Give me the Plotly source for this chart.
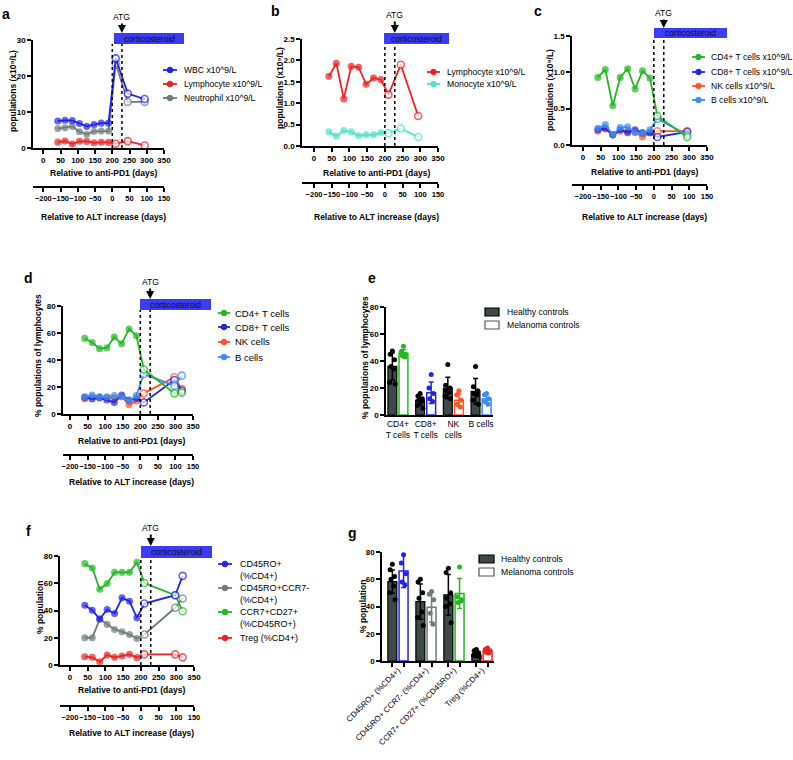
import plotly.graph_objects as go

# ======================= DATA =======================
# Panels a / b : blood counts (x10^9/L) vs days after anti-PD1
days_ab = [42, 63, 84, 105, 126, 147, 168, 189, 210, 245, 294]
wbc = [7.5, 7.7, 7.6, 6.8, 6.0, 6.5, 6.9, 6.9, 24.9, 15.1, 13.6]
lymphocyte = [1.63, 1.93, 1.10, 1.86, 1.84, 1.44, 1.59, 1.55, 1.20, 1.90, 0.70]
neutrophil = [5.4, 5.6, 6.0, 4.5, 3.8, 4.6, 4.7, 4.7, 23.5, 12.8, 12.8]
monocyte = [0.33, 0.23, 0.36, 0.33, 0.24, 0.26, 0.26, 0.31, 0.30, 0.41, 0.21]

# Panel c : lymphocyte subsets (x10^9/L)
days_c = [42, 63, 84, 105, 126, 147, 168, 189, 210, 294]
cd4_abs = [0.93, 1.04, 0.54, 0.93, 1.05, 0.77, 1.02, 0.92, 0.40, 0.11]
cd8_abs = [0.21, 0.23, 0.14, 0.21, 0.17, 0.21, 0.17, 0.17, 0.11, 0.18]
nk_abs = [0.19, 0.22, 0.14, 0.19, 0.19, 0.18, 0.11, 0.17, 0.19, 0.19]
bcell_abs = [0.23, 0.28, 0.14, 0.24, 0.25, 0.17, 0.16, 0.21, 0.36, 0.14]

# Panel d : % of lymphocytes ; Panel f : % population
days_df = [42, 63, 84, 105, 126, 147, 168, 189, 210, 297, 318]
cd4_pct = [56, 53, 48.4, 49, 57, 52, 63, 58, 33, 15.3, 15.8]
cd8_pct = [12.3, 11.1, 11.9, 10.4, 8.6, 14, 10.4, 11.6, 8.6, 25.2, 17.3]
nk_pct = [11.1, 12.8, 12.8, 12.3, 11.6, 12.8, 6.9, 9.6, 15.3, 27.2, 18.5]
bcell_pct = [12.8, 14, 12.8, 12.8, 13.6, 12.8, 9.6, 13.6, 29.6, 21, 28.4]

cd45ro = [43.9, 40.2, 33.7, 40.7, 37.8, 49.3, 46.8, 34.6, 45.1, 51.2, 65.4]
cd45ro_ccr7neg = [20, 20, 33.7, 29.8, 26.1, 24.4, 22.4, 19.5, 22.4, 42, 48.8]
ccr7_cd27 = [74.4, 71.2, 55.6, 59.8, 68, 68, 68, 75.4, 60.2, 51.2, 39.5]
treg = [6.1, 5.6, 2.4, 7.3, 5.6, 6.6, 7.8, 5.4, 7.8, 7.8, 5.6]

N_PRE = 8          # filled points (before corticosteroid); later points hollow
ALT_DAY0 = 200     # anti-PD1 day of ALT increase (= day 0 on the ALT axis)
ATG_DAY = 228      # ATG administration (anti-PD1 days)
anti_pd1_ticks = [0, 50, 100, 150, 200, 250, 300, 350]
alt_ticks = [-200, -150, -100, -50, 0, 50, 100, 150]

# Panel e : controls, % of lymphocytes
cats_e = ["CD4+<br>T cells", "CD8+<br>T cells", "NK<br>cells", "B cells"]
healthy_e_mean = [36.0, 11.0, 20.0, 17.5]
healthy_e_sd = [10.0, 4.0, 8.0, 9.5]
melanoma_e_mean = [45.5, 16.5, 11.0, 12.0]
melanoma_e_sd = [3.0, 8.0, 4.5, 3.5]
healthy_e_pts = [[47.5, 45, 41, 36, 34, 24, 23], [16, 14, 12, 11, 10, 7, 5],
                 [37.5, 22, 20, 18, 17, 14, 12], [36, 21, 18, 16, 15, 11, 8]]
melanoma_e_pts = [[51, 47, 45, 44, 43], [30, 20, 16, 12, 10],
                  [18, 15, 11, 8, 6], [16, 15, 12, 10, 8]]

# Panel g : controls, % population
cats_g = ["CD45RO+ (%CD4+)", "CD45RO+ CCR7- (%CD4+)", "CCR7+ CD27+ (%CD45RO+)", "Treg (%CD4+)"]
healthy_g_mean = [58.3, 43.6, 48.5, 4.9]
healthy_g_sd = [8.5, 13.0, 15.0, 2.0]
melanoma_g_mean = [66.0, 39.5, 49.5, 7.4]
melanoma_g_sd = [12.0, 11.0, 11.0, 1.5]
healthy_g_pts = [[71, 67, 62, 60, 55, 50, 45], [60, 58, 50, 46, 36, 32, 26],
                 [68, 65, 50, 46, 42, 40, 28], [8.5, 7.5, 6, 5, 4.5, 4, 3]]
melanoma_g_pts = [[78, 72, 64, 58, 56], [51, 49, 45, 35, 27],
                  [69, 47, 45, 43, 44], [9.5, 8.5, 7.5, 6.5, 6]]

# ======================= STYLE =======================
W, H = 793, 760
FONT = "Liberation Sans, Arial, Helvetica, sans-serif"
C_BLUE = "#2323ee"
C_RED = "#ee2222"
C_GRAY = "#6e7d7b"
C_TURQ = "#4fe3cc"
C_GREEN = "#22b822"
C_NAVY = "#2525e0"
C_ORANGE = "#ff5522"
C_LBLUE = "#3d8cf0"
C_BOX = "#3c3cf4"
HEALTHY_FILL = "#3d4a48"


def px(x):
    return x / W


def py(y):
    return 1 - y / H


def axn(k, i):
    return f"{k}axis" if i == 1 else f"{k}axis{i}"


def axr(k, i):
    return k if i == 1 else f"{k}{i}"


TICKFONT = dict(family=FONT, size=8, color="black", weight="bold")
AX = dict(showline=True, linecolor="black", linewidth=1.5, ticks="outside", ticklen=4,
          tickwidth=1.5, tickcolor="black", showgrid=False, zeroline=False,
          tickfont=TICKFONT, fixedrange=True, automargin=False)

layout = {}
shapes, annots, traces = [], [], []


def text(t, x, y, size=8.6, bold=False, anchor="center", angle=0, valign="middle", color="black"):
    annots.append(dict(text=t, x=px(x), y=py(y), xref="paper",
                       yref="paper", xanchor=anchor, yanchor=valign, showarrow=False,
                       textangle=angle,
                       font=dict(family=FONT, size=size, color=color,
                                 weight="bold" if bold else "normal")))


def legend_lines(entries, ys, sx0, sx1, tx, size, line_gap=11.5):
    for (lab, col), y in zip(entries, ys):
        shapes.append(dict(type="line", xref="paper", yref="paper", x0=px(sx0), x1=px(sx1),
                           y0=py(y), y1=py(y), line=dict(color=col, width=1.8)))
        cx = (sx0 + sx1) / 2
        shapes.append(dict(type="circle", xref="paper", yref="paper", x0=px(cx - 2.8), x1=px(cx + 2.8),
                           y0=py(y + 2.8), y1=py(y - 2.8), fillcolor=col, line=dict(color=col, width=1)))
        for k, part in enumerate(lab.split("\n")):
            text(part, tx, y + k * line_gap, size, anchor="left")


def legend_bars(ys, sx0, sx1, tx, size):
    entries = [("Healthy controls", HEALTHY_FILL, "black"), ("Melanoma controls", "white", "#555555")]
    for (lab, fill, edge), y in zip(entries, ys):
        shapes.append(dict(type="rect", xref="paper", yref="paper", x0=px(sx0), x1=px(sx1),
                           y0=py(y + 4), y1=py(y - 4), fillcolor=fill, line=dict(color=edge, width=1.2)))
        text(lab, tx, y, size, anchor="left")


def line_panel(i, sp, days, series):
    xm, ym = axr("x", i), axr("y", i)
    xa = axr("x", i + 1)
    x0, x1 = sp["xd"]
    y0, y1 = sp["yd"]
    xr = sp["xr"]
    layout[axn("x", i)] = dict(AX, domain=[px(x0), px(x1)], range=xr, anchor=ym,
                               tickvals=anti_pd1_ticks, tickangle=0)
    layout[axn("y", i)] = dict(AX, domain=[py(y1), py(y0)], range=sp["yr"], anchor=xm,
                               tickvals=sp["yt"], tickformat=sp.get("fmt", ""))
    # secondary x axis: days relative to ALT increase (same scale, shifted by ALT_DAY0)
    layout[axn("x", i + 1)] = dict(AX, overlaying=xm, anchor="free", position=py(sp["alt_y"]),
                                   side="bottom", range=[xr[0] - ALT_DAY0, xr[1] - ALT_DAY0],
                                   tickvals=alt_ticks, tickangle=0,
                                   tickfont=dict(TICKFONT, size=7.5))
    traces.append(go.Scatter(x=[], y=[], xaxis=xa, yaxis=ym, showlegend=False, hoverinfo="skip"))
    for name, vals, col in series:
        n = len(vals)
        traces.append(go.Scatter(
            x=days, y=vals, xaxis=xm, yaxis=ym, mode="lines+markers", name=name,
            cliponaxis=False, showlegend=False, line=dict(color=col, width=1.8),
            marker=dict(color=[col] * N_PRE + ["white"] * (n - N_PRE),
                        size=[5.5] * N_PRE + [7] * (n - N_PRE), line=dict(color=col, width=1.6))))
    # titles
    cx = x0 + (175 - xr[0]) / (xr[1] - xr[0]) * (x1 - x0)
    text("Relative to anti-PD1 (days)", cx, sp["xt_y"], 8.5, bold=True)
    text("Relative to ALT increase (days)", cx, sp["altt_y"], 8.5, bold=True)
    text(sp["ytitle"], sp["ytx"], sp["yty"], 8.5, bold=True, angle=-90)
    # dotted event lines, corticosteroid box, ATG arrow
    bx0, bx1, by0, by1 = sp["box"]
    for d in (ALT_DAY0, ATG_DAY):
        shapes.append(dict(type="line", xref=xm, yref="paper", x0=d, x1=d, y0=py(y1), y1=py(by1),
                           line=dict(color="black", width=1.5, dash="dot")))
    shapes.append(dict(type="rect", xref="paper", yref="paper", x0=px(bx0), x1=px(bx1),
                       y0=py(by1), y1=py(by0), fillcolor=C_BOX, line=dict(width=0)))
    text("corticosteroid", (bx0 + bx1) / 2, (by0 + by1) / 2, 8.6, color="#0a0a30")
    annots.append(dict(text="ATG", xref=xm, yref="paper", x=ATG_DAY, y=py(by0), ax=0,
                       ay=-(by0 - sp["atg_y"]), showarrow=True, arrowhead=2, arrowsize=0.8,
                       arrowwidth=2, arrowcolor="black", standoff=0,
                       font=dict(family=FONT, size=8.6, color="black")))
    text(sp["letter"][0], sp["letter"][1], sp["letter"][2], 14, bold=True)


OFF, BW = 0.2, 0.32
JIT_H = [0.0, -0.08, 0.08, -0.05, 0.05, -0.1, 0.1]
JIT_M = [0.0, -0.08, 0.08, -0.05, 0.05]


def bar_panel(i, sp, cats, hm, hsd, hpts, mm, msd, mpts, mcols):
    xm, ym = axr("x", i), axr("y", i)
    x0, x1 = sp["xd"]
    y0, y1 = sp["yd"]
    idx = list(range(len(cats)))
    xax = dict(AX, domain=[px(x0), px(x1)], range=sp["xr"], anchor=ym, tickvals=idx, ticktext=cats,
               ticks="", tickangle=sp.get("angle", 0),
               tickfont=dict(family=FONT, size=sp.get("catsize", 8.5), color="black"))
    if sp.get("minor"):
        xax["minor"] = dict(tickmode="array", tickvals=sorted([k - OFF for k in idx] + [k + OFF for k in idx]),
                            ticks="outside", ticklen=4, tickwidth=1.5, tickcolor="black")
    layout[axn("x", i)] = xax
    layout[axn("y", i)] = dict(AX, domain=[py(y1), py(y0)], range=[0, 80], anchor=xm,
                               tickvals=[0, 20, 40, 60, 80])
    traces.append(go.Bar(x=[k - OFF for k in idx], y=hm, width=BW, xaxis=xm, yaxis=ym, showlegend=False,
                         marker=dict(color=HEALTHY_FILL, line=dict(color="black", width=1.2)),
                         error_y=dict(type="data", array=hsd, color="black", thickness=1.5, width=2.5),
                         name="Healthy controls"))
    for k in idx:
        traces.append(go.Bar(x=[k + OFF], y=[mm[k]], width=BW, xaxis=xm, yaxis=ym, showlegend=False,
                             marker=dict(color="white", line=dict(color=mcols[k], width=1.5)),
                             error_y=dict(type="data", array=[msd[k]], color=mcols[k], thickness=1.5,
                                          width=2.5), name="Melanoma controls"))
    for k in idx:
        traces.append(go.Scatter(x=[k - OFF + j for j in JIT_H[:len(hpts[k])]], y=hpts[k], mode="markers",
                                 xaxis=xm, yaxis=ym, showlegend=False, cliponaxis=False,
                                 marker=dict(color="black", size=5)))
        traces.append(go.Scatter(x=[k + OFF + j for j in JIT_M[:len(mpts[k])]], y=mpts[k], mode="markers",
                                 xaxis=xm, yaxis=ym, showlegend=False, cliponaxis=False,
                                 marker=dict(color=mcols[k], size=5)))
    text(sp["ytitle"], sp["ytx"], sp["yty"], 8.5, bold=True, angle=-90)
    text(sp["letter"][0], sp["letter"][1], sp["letter"][2], 14, bold=True)


YT_ABS = "populations (x10\u2079/L)"

spec_a = dict(xd=(33, 164), yd=(40, 148), xr=[-30, 350], yr=[0, 30], yt=[0, 10, 20, 30],
              alt_y=187, xt_y=173, altt_y=217, ytitle=YT_ABS, ytx=13, yty=91,
              box=(114, 184, 33, 44), atg_y=17, letter=("a", 6, 14))
spec_b = dict(xd=(302, 438), yd=(39, 146), xr=[-34, 350], yr=[0, 2.5], yt=[0, 0.5, 1, 1.5, 2, 2.5],
              fmt=".1f", alt_y=183, xt_y=173, altt_y=217, ytitle=YT_ABS, ytx=280, yty=88,
              box=(384, 449, 33, 44), atg_y=15, letter=("b", 275, 11))
spec_c = dict(xd=(572, 707), yd=(36, 145), xr=[-31, 350], yr=[0, 1.5], yt=[0, 0.5, 1, 1.5],
              fmt=".1f", alt_y=185, xt_y=172, altt_y=217, ytitle=YT_ABS, ytx=550, yty=90,
              box=(654, 727, 28, 38), atg_y=13, letter=("c", 538, 11))
spec_d = dict(xd=(63, 193), yd=(306, 414), xr=[-20, 350], yr=[0, 80], yt=[0, 20, 40, 60, 80],
              alt_y=455, xt_y=441, altt_y=482, ytitle="% populations of lymphocytes", ytx=38, yty=356,
              box=(140, 211, 299, 310), atg_y=282, letter=("d", 29, 278))
spec_f = dict(xd=(60, 194), yd=(556, 665), xr=[-28, 350], yr=[0, 80], yt=[0, 20, 40, 60, 80],
              alt_y=706, xt_y=690, altt_y=733, ytitle="% population", ytx=40, yty=608,
              box=(141, 212, 546, 558), atg_y=528, letter=("f", 28, 531))
spec_e = dict(xd=(386, 493), yd=(307, 415), xr=[-0.43, 3.43], ytitle="% populations of lymphocytes",
              ytx=365, yty=358, letter=("e", 372, 278))
spec_g = dict(xd=(382, 494), yd=(552, 661), xr=[-0.57, 3.43], ytitle="% population", ytx=363, yty=607,
              letter=("g", 352, 533), angle=-45, minor=True, catsize=8)

# ---- line panels ----
line_panel(1, spec_a, days_ab, [("Neutrophil x10^9/L", neutrophil, C_GRAY),
                                ("Lymphocyte x10^9/L", lymphocyte, C_RED),
                                ("WBC x10^9/L", wbc, C_BLUE)])
legend_lines([("WBC x10^9/L", C_BLUE), ("Lymphocyte x10^9/L", C_RED), ("Neutrophil x10^9/L", C_GRAY)],
             [70, 84, 98], 163, 177, 182, 8.6)

line_panel(3, spec_b, days_ab, [("Monocyte x10^9/L", monocyte, C_TURQ),
                                ("Lymphocyte x10^9/L", lymphocyte, C_RED)])
legend_lines([("Lymphocyte x10^9/L", C_RED), ("Monocyte x10^9/L", C_TURQ)], [72, 84], 427, 440, 445, 8.6)

line_panel(5, spec_c, days_c, [("NK cells x10^9/L", nk_abs, C_ORANGE),
                               ("CD8+ T cells x10^9/L", cd8_abs, C_NAVY),
                               ("B cells x10^9/L", bcell_abs, C_LBLUE),
                               ("CD4+ T cells x10^9/L", cd4_abs, C_GREEN)])
legend_lines([("CD4+ T cells x10^9/L", C_GREEN), ("CD8+ T cells x10^9/L", C_NAVY),
              ("NK cells x10^9/L", C_ORANGE), ("B cells x10^9/L", C_LBLUE)],
             [57, 72, 86, 100], 692, 705, 709, 8.6)

line_panel(7, spec_d, days_df, [("NK cells", nk_pct, C_ORANGE), ("CD8+ T cells", cd8_pct, C_NAVY),
                                ("B cells", bcell_pct, C_LBLUE), ("CD4+ T cells", cd4_pct, C_GREEN)])
legend_lines([("CD4+ T cells", C_GREEN), ("CD8+ T cells", C_NAVY), ("NK cells", C_ORANGE), ("B cells", C_LBLUE)],
             [313, 327, 342, 357], 218, 230, 233, 9.5)

line_panel(10, spec_f, days_df, [("Treg (%CD4+)", treg, C_RED),
                                 ("CD45RO+CCR7- (%CD4+)", cd45ro_ccr7neg, C_GRAY),
                                 ("CCR7+CD27+ (%CD45RO+)", ccr7_cd27, C_GREEN),
                                 ("CD45RO+ (%CD4+)", cd45ro, C_BLUE)])
legend_lines([("CD45RO+\n(%CD4+)", C_BLUE), ("CD45RO+CCR7-\n(%CD4+)", C_GRAY),
              ("CCR7+CD27+\n(%CD45RO+)", C_GREEN), ("Treg (%CD4+)", C_RED)],
             [564, 588, 612, 638], 218, 232, 238, 9, line_gap=11.5)

# ---- bar panels ----
bar_panel(9, spec_e, cats_e, healthy_e_mean, healthy_e_sd, healthy_e_pts,
          melanoma_e_mean, melanoma_e_sd, melanoma_e_pts, [C_GREEN, C_NAVY, C_ORANGE, C_LBLUE])
legend_bars([312, 325], 485, 499, 505, 8.6)

bar_panel(12, spec_g, cats_g, healthy_g_mean, healthy_g_sd, healthy_g_pts,
          melanoma_g_mean, melanoma_g_sd, melanoma_g_pts, [C_BLUE, C_GRAY, C_GREEN, C_RED])
legend_bars([559, 572], 479, 494, 499, 8.6)

fig = go.Figure(data=traces)
fig.update_layout(**layout)
fig.update_layout(width=W, height=H, autosize=False,
                  margin=dict(l=0, r=0, t=0, b=0, pad=0, autoexpand=False),
                  paper_bgcolor="white", plot_bgcolor="rgba(0,0,0,0)", showlegend=False,
                  barmode="overlay", shapes=shapes, annotations=annots,
                  font=dict(family=FONT, color="black"))
fig.write_html("out.html", config={"displayModeBar": False},
               post_script="document.body.style.margin='0';")
